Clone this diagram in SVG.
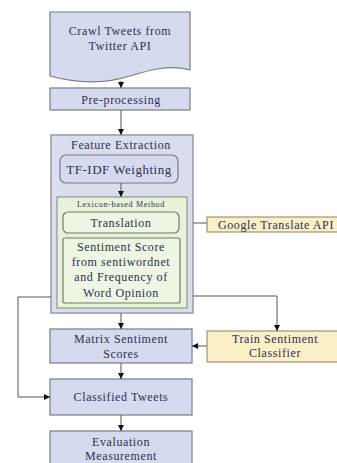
<svg xmlns="http://www.w3.org/2000/svg" width="337" height="463" viewBox="0 0 337 463">
<style>
text{font-family:"Liberation Serif","Times New Roman",serif;fill:#2c3150;text-anchor:middle}
.t{font-size:12px;letter-spacing:0.6px}
.s{font-size:8px;letter-spacing:0.7px}
.blue{fill:#d6daef;stroke:#7a7a88;stroke-width:1.2}
.outer{fill:#dadded;stroke:#9a9aa8;stroke-width:1.5}
.green{fill:#e8f2da;stroke:#7a8a70;stroke-width:1}
.gin{fill:#edf5e3;stroke:#6f7d66;stroke-width:1.2}
.yel{fill:#fbefc8;stroke:#8a8060;stroke-width:1}
.ln{fill:none;stroke:#555;stroke-width:1}
</style>
<defs>
<marker id="ar" viewBox="0 0 10 10" refX="10" refY="5" markerWidth="6" markerHeight="6" orient="auto">
<path d="M0,0 L10,5 L0,10 z" fill="#111"/>
</marker>
</defs>
<rect width="337" height="463" fill="#fff"/>
<g id="crawl">
<path class="blue" d="M50,12 H190 V70 C170,64 150,70 130,76 C105,84 80,84 50,76 Z"/>
<text class="t" x="120" y="35">Crawl Tweets from</text>
<text class="t" x="120" y="50">Twitter API</text>
</g>
<g id="preprocessing">
<rect class="blue" x="50" y="88" width="140" height="22"/>
<text class="t" x="121" y="104">Pre-processing</text>
</g>
<g id="feature">
<rect class="outer" x="51" y="135" width="142" height="178"/>
<text class="t" x="121" y="149">Feature Extraction</text>
</g>
<g id="tfidf">
<rect class="blue" x="60" y="155" width="118" height="28" rx="6" fill="#e6e8f6"/>
<text class="t" x="119" y="174" style="font-size:13px;letter-spacing:0.5px">TF-IDF Weighting</text>
</g>
<g id="lexicon">
<rect class="green" x="57" y="197" width="130" height="111"/>
<text class="s" x="121" y="207">Lexicon-based Method</text>
</g>
<g id="translation">
<rect class="gin" x="63" y="212" width="116" height="21" rx="5"/>
<text class="t" x="121" y="227">Translation</text>
</g>
<g id="score">
<rect class="gin" x="63" y="238" width="117" height="65" rx="2"/>
<text class="t" x="121" y="251">Sentiment Score</text>
<text class="t" x="121" y="266">from sentiwordnet</text>
<text class="t" x="121" y="281">and Frequency of</text>
<text class="t" x="121" y="297">Word Opinion</text>
</g>
<g id="google">
<rect class="yel" x="207" y="217" width="132" height="15"/>
<text class="t" x="276" y="229">Google Translate API</text>
</g>
<g id="matrix">
<rect class="blue" x="50" y="329" width="142" height="34"/>
<text class="t" x="121" y="343">Matrix Sentiment</text>
<text class="t" x="121" y="358">Scores</text>
</g>
<g id="train">
<rect class="yel" x="207" y="331" width="132" height="31"/>
<text class="t" x="275" y="343">Train Sentiment</text>
<text class="t" x="275" y="357">Classifier</text>
</g>
<g id="classified">
<rect class="blue" x="50" y="379" width="142" height="36"/>
<text class="t" x="121" y="401">Classified Tweets</text>
</g>
<g id="evaluation">
<rect class="blue" x="50" y="431" width="142" height="40"/>
<text class="t" x="121" y="446">Evaluation</text>
<text class="t" x="121" y="460">Measurement</text>
</g>
<g id="connectors">
<path class="ln" d="M121,81 V88" marker-end="url(#ar)"/>
<path class="ln" d="M121,110 V135" marker-end="url(#ar)"/>
<path class="ln" d="M121,183 V197" marker-end="url(#ar)"/>
<path class="ln" d="M193,223 H207"/>
<path class="ln" d="M121,313 V329" marker-end="url(#ar)"/>
<path class="ln" d="M121,363 V379" marker-end="url(#ar)"/>
<path class="ln" d="M121,415 V431" marker-end="url(#ar)"/>
<path class="ln" d="M193,296 H277 V331" marker-end="url(#ar)"/>
<path class="ln" d="M207,346 H192" marker-end="url(#ar)"/>
<path class="ln" d="M51,297 H18 V397 H50" marker-end="url(#ar)"/>
</g>
</svg>
